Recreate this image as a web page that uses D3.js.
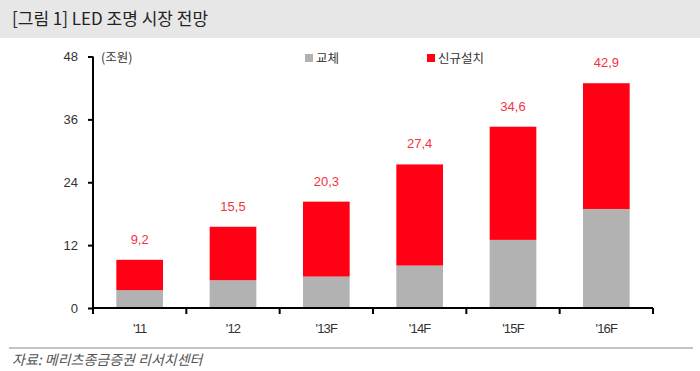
<!DOCTYPE html>
<html>
<head>
<meta charset="utf-8">
<script src="https://cdn.jsdelivr.net/npm/d3@7"></script>
<style>
  body { margin: 0; background: #fff; }
  svg { display: block; font-family: "Noto Sans CJK KR", "Noto Sans", sans-serif; }
</style>
</head>
<body>
<svg id="chart" width="700" height="371"></svg>
<script>
const years = ["'11", "'12", "'13F", "'14F", "'15F", "'16F"];
const replacement = [3.4, 5.3, 6.0, 8.1, 13.0, 18.9];
const newInstall = [5.8, 10.2, 14.3, 19.3, 21.6, 24.0];
const totals = [9.2, 15.5, 20.3, 27.4, 34.6, 42.9];
const yTicks = [0, 12, 24, 36, 48];

const GRAY = '#b2b2b2';
const RED = '#ff0014';
const LABEL_RED = '#f4333f';

const svg = d3.select('#chart');

// title bar
svg.append('rect').attr('x', 0).attr('y', 0).attr('width', 700).attr('height', 38).attr('fill', '#e7e7e7');
svg.append('text').attr('x', 12).attr('y', 25).attr('font-size', 17).attr('fill', '#222')
  .text('[그림 1] LED 조명 시장 전망');

const x = d3.scaleBand().domain(years).range([93, 653]).paddingInner(0.5).paddingOuter(0.25);
const y = d3.scaleLinear().domain([0, 48]).range([308, 56.5]);

const rows = years.map((yr, i) => ({ year: yr, replacement: replacement[i], newInstall: newInstall[i], total: totals[i] }));
const stacked = d3.stack().keys(['replacement', 'newInstall'])(rows);
const colors = { replacement: GRAY, newInstall: RED };

svg.append('g').selectAll('g')
  .data(stacked)
  .join('g')
  .attr('fill', (s) => colors[s.key])
  .selectAll('rect')
  .data((s) => s)
  .join('rect')
  .attr('x', (d) => x(d.data.year))
  .attr('width', x.bandwidth())
  .attr('y', (d) => y(d[1]))
  .attr('height', (d) => y(d[0]) - y(d[1]));

// value labels
svg.append('g').selectAll('text')
  .data(rows)
  .join('text')
  .attr('x', (d) => x(d.year) + x.bandwidth() / 2)
  .attr('y', (d) => y(d.total) - 16)
  .attr('text-anchor', 'middle')
  .attr('font-size', 13)
  .attr('fill', LABEL_RED)
  .attr('font-family', 'Arial, "Liberation Sans", sans-serif')
  .text((d) => d.total.toFixed(1).replace('.', ','));

// y axis
const yAxis = svg.append('g').attr('transform', 'translate(93,0)')
  .call(d3.axisLeft(y).tickValues(yTicks).tickSize(5).tickPadding(10));
yAxis.select('.domain').attr('stroke', '#000').attr('stroke-width', 2).attr('d', `M0,${y(48)}V${y(0)}`);
yAxis.selectAll('.tick line').attr('stroke', '#000').attr('stroke-width', 2);
yAxis.selectAll('.tick text').attr('font-size', 13).attr('fill', '#333')
  .attr('font-family', 'Arial, "Liberation Sans", sans-serif');

// x axis with ticks at category boundaries
const xAxisG = svg.append('g').attr('transform', `translate(0,${y(0)})`);
xAxisG.append('line').attr('x1', 93).attr('x2', 653).attr('stroke', '#000').attr('stroke-width', 2);
const step = x.step();
const bounds = d3.range(years.length + 1).map((i) => x(years[0]) - step * 0.25 + i * step);
xAxisG.selectAll('.bound')
  .data(bounds)
  .join('line')
  .attr('x1', (d) => d).attr('x2', (d) => d)
  .attr('y1', 0).attr('y2', 6)
  .attr('stroke', '#000').attr('stroke-width', 2);
xAxisG.selectAll('.lbl')
  .data(years)
  .join('text')
  .attr('x', (d) => x(d) + x.bandwidth() / 2)
  .attr('y', 25)
  .attr('text-anchor', 'middle')
  .attr('font-size', 13)
  .attr('fill', '#333')
  .attr('font-family', 'Arial, "Liberation Sans", sans-serif')
  .attr('letter-spacing', -0.8)
  .text((d) => d);

// unit
svg.append('text').attr('x', 101).attr('y', 62).attr('font-size', 12.5).attr('fill', '#333').text('(조원)');

// legend
const legend = [
  { label: '교체', color: GRAY, x: 305 },
  { label: '신규설치', color: RED, x: 427 },
];
const lg = svg.append('g').selectAll('g').data(legend).join('g')
  .attr('transform', (d) => `translate(${d.x},54)`);
lg.append('rect').attr('width', 8).attr('height', 8).attr('fill', (d) => d.color);
lg.append('text').attr('x', 11).attr('y', 9).attr('font-size', 12.5).attr('fill', '#333').text((d) => d.label);

// footer
svg.append('line').attr('x1', 9).attr('x2', 693).attr('y1', 348).attr('y2', 348).attr('stroke', '#888').attr('stroke-width', 1);
svg.append('text').attr('x', 12).attr('y', 365).attr('font-size', 14).attr('font-style', 'italic').attr('fill', '#555')
  .text('자료: 메리츠종금증권 리서치센터');
</script>
</body>
</html>
